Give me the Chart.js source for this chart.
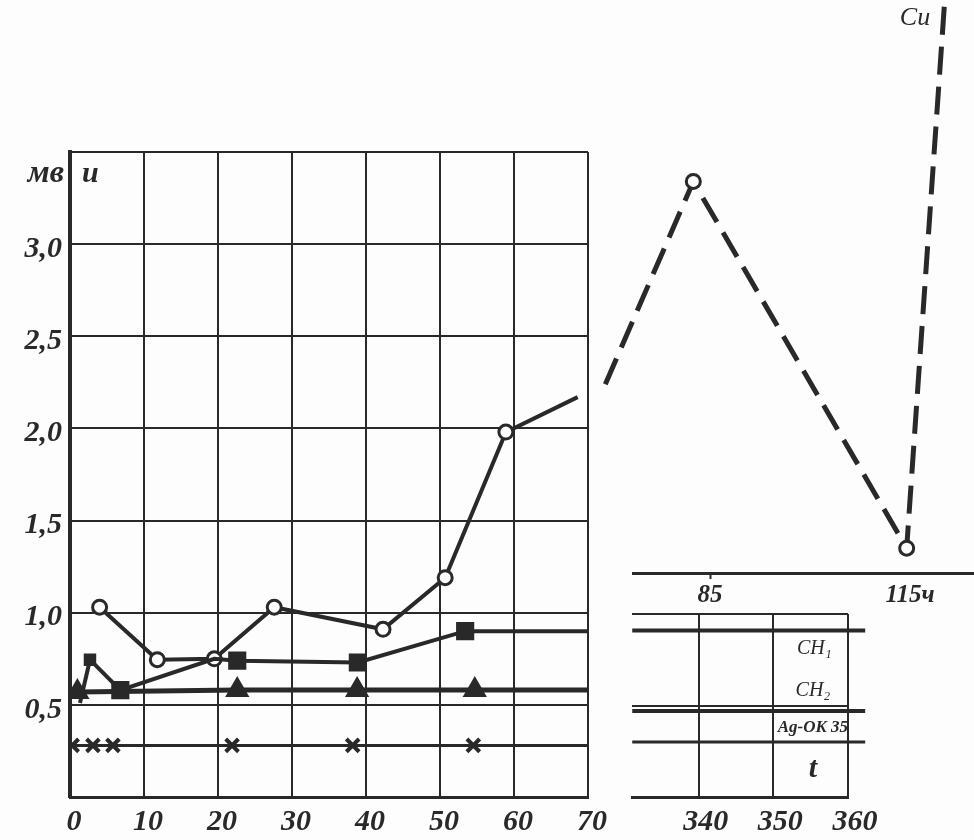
<!DOCTYPE html>
<html>
<head>
<meta charset="utf-8">
<script src="https://cdn.jsdelivr.net/npm/chart.js@4.4.1/dist/chart.umd.min.js"></script>
<style>
  html, body { margin: 0; padding: 0; background: #fdfdfd; }
  #wrap { position: relative; width: 974px; height: 840px; overflow: hidden; }
  canvas { position: absolute; }
</style>
</head>
<body>
<div id="wrap">
  <canvas id="main" width="620" height="840" style="left:0;top:0"></canvas>
  <canvas id="hours" width="384" height="620" style="left:590px;top:0"></canvas>
  <canvas id="tail" width="374" height="280" style="left:600px;top:560px"></canvas>
</div>
<script>
// main panel, t in minutes, potential in mV
const tTicks = [0, 10, 20, 30, 40, 50, 60, 70];
const uT = [4, 11.8, 19.5, 27.6, 42.3, 50.7, 58.9, 68.6];
const uV = [1.03, 0.745, 0.75, 1.03, 0.91, 1.19, 1.98, 2.17];
const ch1T = [1.35, 2.7, 6.8, 19.5, 22.6, 38.9, 53.4, 70];
const ch1V = [0.51, 0.745, 0.58, 0.75, 0.74, 0.73, 0.90, 0.90];
const ch2T = [1, 22.6, 38.8, 54.7, 70];
const ch2V = [0.57, 0.58, 0.58, 0.58, 0.58];
const agT = [0.3, 3.1, 5.8, 21.9, 38.2, 54.5, 70];
const agV = [0.28, 0.28, 0.28, 0.28, 0.28, 0.28, 0.28];

// upper right: dashed continuation of u, t in hours
const hourTicks = [85, 115];
const cuH = [69.3, 82.5, 114.5, 120.2];
const cuV = [2.24, 3.34, 1.35, 4.32];

// lower right: where the flat lines end, t in minutes
const tailTicks = [340, 350, 360];
const tailT = [331.1, 362.3];
const tailCh1 = [0.91, 0.91];
const tailCh2 = [0.47, 0.47];
const tailAg = [0.30, 0.30];

const ink = '#292929';
const paper = '#fdfdfd';
const serif = '"Liberation Serif", "DejaVu Serif", serif';
const font = (size, weight = 'bold') => ({ family: serif, size, style: 'italic', weight });
const pts = (xs, ys) => xs.map((x, i) => ({ x, y: ys[i] }));
const comma = v => v.toFixed(1).replace('.', ',');
const fixTicks = list => s => { s.ticks = list.map(v => ({ value: v })); };

const base = {
  responsive: false,
  animation: false,
  devicePixelRatio: 1,
  plugins: { legend: { display: false }, tooltip: { enabled: false } },
  elements: { line: { tension: 0 } }
};

// free text written on the figure, placed in data units
function textPlugin(items) {
  return {
    id: 'notes',
    afterDraw(chart) {
      const { ctx, scales } = chart;
      ctx.save();
      ctx.fillStyle = ink;
      ctx.textBaseline = 'middle';
      items.forEach(it => {
        ctx.font = `italic ${it.weight || 'bold'} ${it.size}px ${serif}`;
        ctx.textAlign = it.align || 'center';
        ctx.fillText(it.text, scales.x.getPixelForValue(it.x) + (it.dx || 0), scales.y.getPixelForValue(it.y));
      });
      ctx.restore();
    }
  };
}

// main panel
new Chart(document.getElementById('main'), {
  type: 'line',
  data: {
    datasets: [
      {
        data: pts(agT, agV), borderColor: ink, borderWidth: 3,
        pointStyle: 'crossRot', pointRadius: [9, 9, 9, 9, 9, 9, 0],
        pointBorderColor: ink, pointBorderWidth: 4
      },
      {
        data: pts(ch2T, ch2V), borderColor: ink, borderWidth: 5,
        pointStyle: 'triangle', pointRadius: [9, 9, 9, 9, 0],
        pointBackgroundColor: ink, pointBorderColor: ink
      },
      {
        data: pts(ch1T, ch1V), borderColor: ink, borderWidth: 4,
        pointStyle: 'rect', pointRadius: [0, 6, 10, 0, 10, 10, 10, 0],
        pointBackgroundColor: ink, pointBorderColor: ink
      },
      {
        data: pts(uT, uV), borderColor: ink, borderWidth: 4,
        pointStyle: 'circle', pointRadius: [7, 7, 7, 7, 7, 7, 7, 0],
        pointBackgroundColor: paper, pointBorderColor: ink, pointBorderWidth: 3
      }
    ]
  },
  options: {
    ...base,
    layout: { padding: { top: 152, right: 32, left: 0, bottom: 0 } },
    scales: {
      x: {
        type: 'linear', min: 0, max: 70,
        afterBuildTicks: fixTicks(tTicks),
        afterFit: s => { s.height = 43; s.paddingLeft = 0; s.paddingRight = 0; },
        grid: { color: ink, lineWidth: 2, drawTicks: false },
        border: { color: ink, width: 3 },
        ticks: { color: ink, font: font(30), padding: 7, labelOffset: 4, maxRotation: 0 }
      },
      y: {
        min: 0, max: 3.5,
        afterFit: s => { s.width = 70; s.paddingTop = 0; s.paddingBottom = 0; },
        grid: { color: ink, lineWidth: 2, drawTicks: false },
        border: { color: ink, width: 4 },
        ticks: {
          stepSize: 0.5, color: ink, font: font(30), padding: 8, labelOffset: 5,
          callback: v => (v > 0 && v < 3.5) ? comma(v) : ''
        }
      }
    }
  },
  plugins: [textPlugin([
    { text: 'мв', x: 0, y: 3.38, dx: -6, align: 'right', size: 32 },
    { text: 'u', x: 0, y: 3.38, dx: 12, align: 'left', size: 30 }
  ])]
});

// upper right, hours
new Chart(document.getElementById('hours'), {
  type: 'line',
  data: {
    datasets: [{
      data: pts(cuH, cuV), borderColor: ink, borderWidth: 5, borderDash: [28, 12],
      pointStyle: 'circle', pointRadius: [0, 7, 7, 0],
      pointBackgroundColor: paper, pointBorderColor: ink, pointBorderWidth: 3,
      clip: false
    }]
  },
  options: {
    ...base,
    layout: { padding: { top: 0, right: 0, left: 43, bottom: 0 } },
    scales: {
      x: {
        type: 'linear', min: 73.45, max: 124.6,
        afterBuildTicks: fixTicks(hourTicks),
        afterFit: s => { s.height = 47; s.paddingLeft = 0; s.paddingRight = 0; },
        grid: {
          drawOnChartArea: false, tickLength: 6, tickWidth: 2,
          tickColor: c => (c.tick && c.tick.value === 85) ? ink : 'rgba(0,0,0,0)'
        },
        border: { color: ink, width: 3 },
        ticks: {
          color: ink, font: font(25), padding: 2, maxRotation: 0,
          callback: v => v === 115 ? '115ч' : String(v)
        }
      },
      y: { display: false, min: 1.2155, max: 4.3247 }
    }
  },
  plugins: [textPlugin([
    { text: 'Cu', x: 115.75, y: 4.227, size: 26, weight: 'normal' }
  ])]
});

// lower right, minutes 340-360
const endMark = (style, r) => ({
  pointStyle: style, pointRadius: [0, r], pointBackgroundColor: ink,
  pointBorderColor: ink, pointBorderWidth: 3, borderColor: ink, clip: false
});
new Chart(document.getElementById('tail'), {
  type: 'line',
  data: {
    datasets: [
      { data: pts(tailT, tailCh1), borderWidth: 4, ...endMark('rect', 10) },
      { data: pts(tailT, tailCh2), borderWidth: 4, ...endMark('triangle', 8) },
      { data: pts(tailT, tailAg), borderWidth: 3, ...endMark('crossRot', 8) }
    ]
  },
  options: {
    ...base,
    layout: { padding: { top: 54, right: 126, left: 32, bottom: 0 } },
    scales: {
      x: {
        type: 'linear', min: 331.07, max: 360,
        afterBuildTicks: fixTicks(tailTicks),
        afterFit: s => { s.height = 43; s.paddingLeft = 0; s.paddingRight = 0; },
        grid: { color: ink, lineWidth: 2, drawTicks: false },
        border: { color: ink, width: 3 },
        ticks: { color: ink, font: font(30), padding: 7, labelOffset: 7, maxRotation: 0 }
      },
      y: {
        min: 0, max: 1,
        afterFit: s => { s.width = 0; s.paddingTop = 0; s.paddingBottom = 0; },
        grid: { color: ink, lineWidth: 2, drawTicks: false },
        border: { display: false },
        ticks: { display: false, stepSize: 0.5 }
      }
    }
  },
  plugins: [textPlugin([
    { text: 'CH₁', x: 355.5, y: 0.81, size: 20, weight: 'normal' },
    { text: 'CH₂', x: 355.3, y: 0.58, size: 20, weight: 'normal' },
    { text: 'Ag-OK 35', x: 355.3, y: 0.38, size: 17, weight: 'bold' },
    { text: 't', x: 355.3, y: 0.15, size: 30 }
  ])]
});
</script>
</body>
</html>
